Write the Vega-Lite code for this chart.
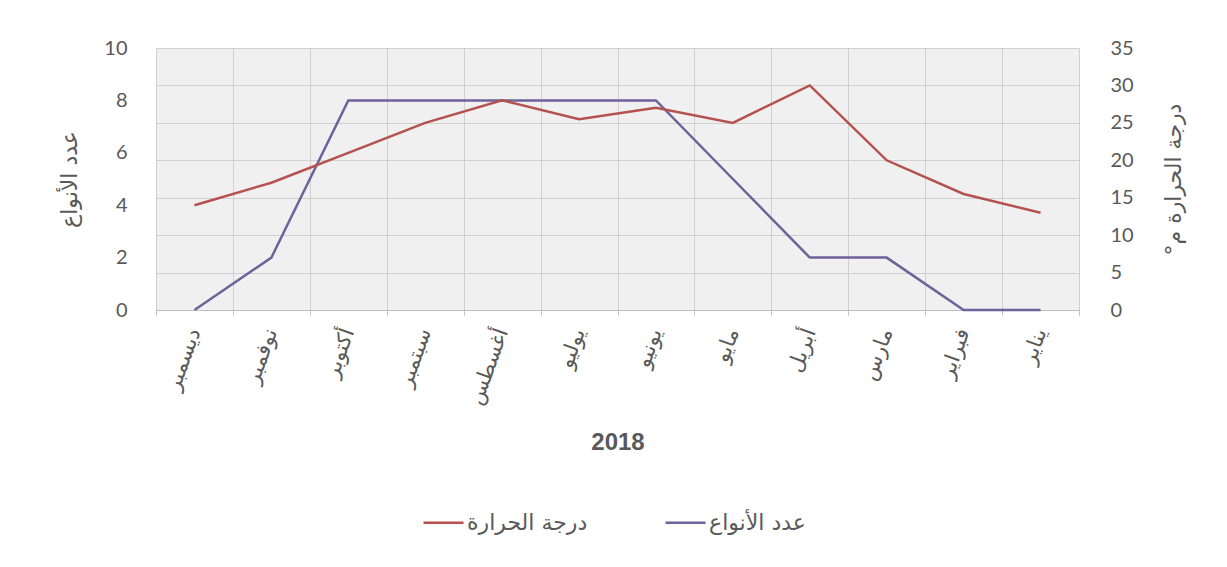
{
  "$schema": "https://vega.github.io/schema/vega-lite/v6.json",
  "width": 923,
  "height": 262,
  "autosize": {"type": "none"},
  "padding": {"left": 156, "top": 48, "right": 148, "bottom": 257},
  "background": "white",
  "config": {
    "view": {"fill": "#f0f0f0", "stroke": null},
    "axis": {"labelColor": "#595959", "titleColor": "#595959"}
  },
  "data": {
    "values": [
      {"month": "ديسمبر", "species": 0, "temp": 14},
      {"month": "نوفمبر", "species": 2, "temp": 17},
      {"month": "أكتوبر", "species": 8, "temp": 21},
      {"month": "سبتمبر", "species": 8, "temp": 25},
      {"month": "أغسطس", "species": 8, "temp": 28},
      {"month": "يوليو", "species": 8, "temp": 25.5},
      {"month": "يونيو", "species": 8, "temp": 27},
      {"month": "مايو", "species": 5, "temp": 25},
      {"month": "أبريل", "species": 2, "temp": 30},
      {"month": "مارس", "species": 2, "temp": 20},
      {"month": "فبراير", "species": 0, "temp": 15.5},
      {"month": "يناير", "species": 0, "temp": 13}
    ]
  },
  "encoding": {
    "x": {
      "field": "month",
      "type": "ordinal",
      "sort": null,
      "scale": {"type": "band", "paddingInner": 0, "paddingOuter": 0},
      "axis": {
        "title": "2018",
        "titleFont": "Liberation Sans",
        "titleFontSize": 24,
        "titleFontWeight": "bold",
        "titlePadding": 23,
        "labelFont": "DejaVu Sans",
        "labelFontSize": 21,
        "labelAngle": -70,
        "labelAlign": "right",
        "labelBaseline": "middle",
        "labelPadding": 14,
        "tickBand": "extent",
        "tickSize": 5,
        "tickColor": "#bfbfbf",
        "domainColor": "#bfbfbf",
        "grid": true,
        "gridColor": "#d0d0d0"
      }
    }
  },
  "layer": [
    {
      "mark": {"type": "line", "strokeWidth": 2.5},
      "encoding": {
        "y": {
          "field": "species",
          "type": "quantitative",
          "scale": {"domain": [0, 10]},
          "axis": {
            "orient": "left",
            "values": [0, 2, 4, 6, 8, 10],
            "title": "عدد الأنواع",
            "titleFont": "DejaVu Sans",
            "titleFontSize": 22,
            "titleFontWeight": "normal",
            "titlePadding": 22,
            "labelFont": "Lato",
            "labelFontSize": 20,
            "labelPadding": 29,
            "ticks": false,
            "domain": false,
            "grid": false
          }
        },
        "color": {
          "datum": "عدد الأنواع",
          "type": "nominal",
          "scale": {"domain": ["درجة الحرارة", "عدد الأنواع"], "range": ["#b5514f", "#6d6299"]},
          "legend": {
            "orient": "none",
            "legendX": 266,
            "legendY": 453,
            "direction": "horizontal",
            "title": null,
            "symbolType": "stroke",
            "symbolSize": 1600,
            "symbolStrokeWidth": 2.5,
            "labelFont": "DejaVu Sans",
            "labelFontSize": 22,
            "labelColor": "#595959",
            "labelOffset": 2,
            "columnPadding": 72
          }
        }
      }
    },
    {
      "mark": {"type": "line", "strokeWidth": 2.5},
      "encoding": {
        "y": {
          "field": "temp",
          "type": "quantitative",
          "scale": {"domain": [0, 35]},
          "axis": {
            "orient": "right",
            "values": [0, 5, 10, 15, 20, 25, 30, 35],
            "title": "درجة الحرارة م°\u200f",
            "titleAngle": -90,
            "titleFont": "DejaVu Sans",
            "titleFontSize": 22,
            "titleFontWeight": "normal",
            "titlePadding": 52,
            "labelFont": "Lato",
            "labelFontSize": 20,
            "labelPadding": 31,
            "ticks": false,
            "domain": false,
            "grid": true,
            "gridColor": "#d0d0d0"
          }
        },
        "color": {"datum": "درجة الحرارة", "type": "nominal"}
      }
    }
  ],
  "resolve": {"scale": {"y": "independent"}}
}
